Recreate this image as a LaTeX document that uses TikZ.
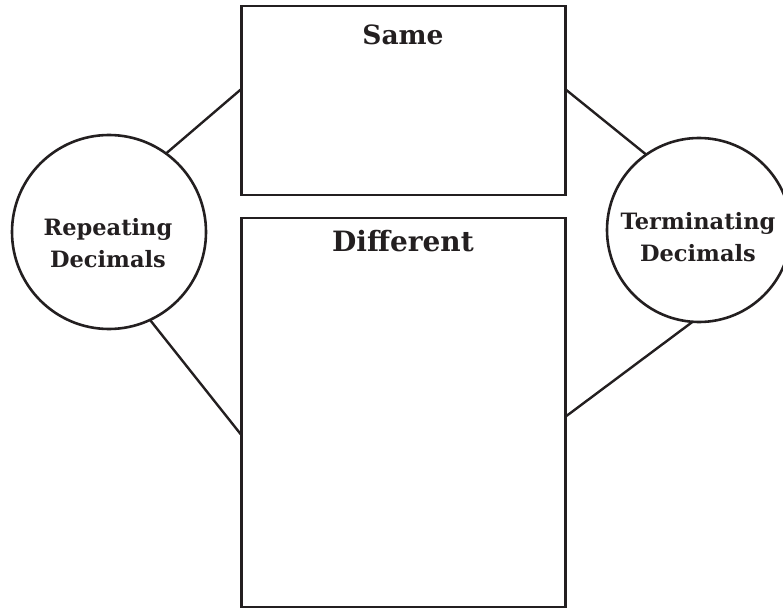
\documentclass[tikz,border=0pt]{standalone}
\usepackage{fontspec}
\setmainfont{DejaVu Serif}
\begin{document}
\begin{tikzpicture}[x=1pt,y=-1pt,
  ink/.style={draw=inkc, line width=2.9pt},
  panel/.style={ink, rectangle, inner sep=0pt, outer sep=0pt, minimum width=323.7pt},
  bubble/.style={ink, circle, inner sep=0pt, outer sep=0pt, line width=2.6pt},
  link/.style={draw=inkc, line width=2.4pt},
  heading/.style={anchor=base, text=inkc, inner sep=0pt, font=\bfseries\fontsize{#1}{#1}\selectfont},
  bubbletext/.style={text=inkc, inner sep=0pt, align=center, font=\bfseries\fontsize{22.5}{32}\selectfont}]
\definecolor{inkc}{HTML}{231F20}
\useasboundingbox (0,0) rectangle (783,609);
\clip (0,0) rectangle (783,609);

% the two panels
\node[panel, minimum height=189pt] (same) at (403.2,100.5) {};
\node[panel, minimum height=389pt] (diff) at (403.2,412.5) {};
\node[heading=26.5] (sametxt) at (403,45) {Same};
\node[heading=28] (difftxt) at (403,251.7) {Different};

% the two bubbles
\node[bubble, minimum size=194pt] (rep) at (109,232) {};
\node[bubble, minimum size=184pt] (term) at (699,230) {};
\node[bubbletext] (reptxt) at (108,243.6) {Repeating\\Decimals};
\node[bubbletext] (termtxt) at (698,236.7) {Terminating\\Decimals};

% connectors between bubbles and panels
\draw[link] (rep.54) -- ([yshift=11.5pt]same.west);
\draw[link] (rep.-65) -- ([yshift=-22.5pt]diff.west);
\draw[link] (term.125) -- ([yshift=11.5pt]same.east);
\draw[link] (term.-94) -- ([yshift=-4.5pt]diff.east);
\end{tikzpicture}
\end{document}
